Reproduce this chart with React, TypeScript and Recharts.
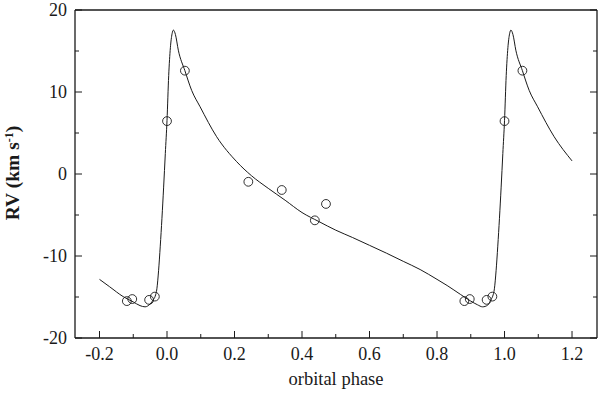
import React from "react";
import { ComposedChart, Line, Scatter, XAxis, YAxis } from "recharts";

// Fitted RV curve (phase, RV km/s)
const curvePhase = [
  -0.2, -0.17, -0.13, -0.1, -0.08, -0.065, -0.05, -0.04, -0.035, -0.03, -0.025, -0.02, -0.015, -0.01, -0.005,
  0.0, 0.005, 0.01, 0.015, 0.019, 0.025, 0.0335, 0.053, 0.073, 0.098, 0.147, 0.2065, 0.25, 0.3, 0.35, 0.4, 0.45,
  0.5, 0.55, 0.6, 0.65, 0.7, 0.75, 0.8, 0.83, 0.87, 0.9, 0.92, 0.935, 0.95, 0.96, 0.965, 0.97, 0.975, 0.98,
  0.985, 0.99, 0.995, 1.0, 1.005, 1.01, 1.015, 1.019, 1.025, 1.0335, 1.053, 1.073, 1.098, 1.147, 1.2,
];
const curveRV = [
  -12.85, -13.75, -14.95, -15.6, -16.05, -16.2, -15.85, -15.3, -14.9, -14.0, -11.8, -8.8, -5.4, -1.6, 2.5,
  6.5, 12.0, 15.4, 17.1, 17.55, 17.0, 15.1, 12.6, 10.2, 8.2, 4.55, 1.5, -0.2, -1.75, -3.2, -4.7, -5.8,
  -6.85, -7.75, -8.7, -9.65, -10.65, -11.65, -12.85, -13.6, -14.7, -15.5, -15.95, -16.2, -16.0, -15.3, -14.9, -14.0,
  -11.8, -8.8, -5.4, -1.6, 2.5, 6.5, 12.0, 15.4, 17.1, 17.55, 17.0, 15.1, 12.6, 10.2, 8.2, 4.55, 1.6,
];

// Observed RVs (open circles)
const obsPhase = [-0.119, -0.103, -0.053, -0.036, 0.0, 0.053, 0.241, 0.34, 0.438, 0.471, 0.881, 0.897, 0.947, 0.964, 1.0, 1.053];
const obsRV = [-15.5, -15.25, -15.35, -14.95, 6.45, 12.6, -0.95, -1.95, -5.65, -3.65, -15.5, -15.25, -15.35, -14.95, 6.45, 12.6];

const xTicks = [-0.2, -0.1, 0.0, 0.1, 0.2, 0.3, 0.4, 0.5, 0.6, 0.7, 0.8, 0.9, 1.0, 1.1, 1.2];
const yTicks = [-20, -15, -10, -5, 0, 5, 10, 15, 20];

const curve = curvePhase.map((p, i) => ({ phase: p, rv: curveRV[i] }));
const obs = obsPhase.map((p, i) => ({ phase: p, rv: obsRV[i] }));

const INK = "#1a1a1a";
const FONT = "'Liberation Serif', 'Times New Roman', serif";

const isMajorX = (v: number) => Math.round(v * 10) % 2 === 0;
const isMajorY = (v: number) => Math.round(v) % 10 === 0;

const BottomTick = (props: any) => {
  const { x, y, payload } = props;
  const v = payload.value as number;
  const major = isMajorX(v);
  return (
    <g>
      <line x1={x} y1={y} x2={x} y2={y - (major ? 7 : 4)} stroke={INK} strokeWidth={1} />
      {major && (
        <text x={x} y={y + 22} textAnchor="middle" fontFamily={FONT} fontSize={18} fill={INK}>
          {v.toFixed(1)}
        </text>
      )}
    </g>
  );
};

const TopTick = (props: any) => {
  const { x, y, payload } = props;
  const major = isMajorX(payload.value);
  return <line x1={x} y1={y} x2={x} y2={y + (major ? 7 : 4)} stroke={INK} strokeWidth={1} />;
};

const LeftTick = (props: any) => {
  const { x, y, payload } = props;
  const v = payload.value as number;
  const major = isMajorY(v);
  return (
    <g>
      <line x1={x} y1={y} x2={x + (major ? 7 : 4)} y2={y} stroke={INK} strokeWidth={1} />
      {major && (
        <text x={x - 8} y={y + 6} textAnchor="end" fontFamily={FONT} fontSize={18} fill={INK}>
          {String(v)}
        </text>
      )}
    </g>
  );
};

const RightTick = (props: any) => {
  const { x, y, payload } = props;
  const major = isMajorY(payload.value);
  return <line x1={x} y1={y} x2={x - (major ? 7 : 4)} y2={y} stroke={INK} strokeWidth={1} />;
};

const Circle = (props: any) => {
  const { cx, cy } = props;
  return <circle cx={cx} cy={cy} r={4.4} fill="none" stroke={INK} strokeWidth={0.9} />;
};

const XLabel = () => (
  <text x={336} y={385} textAnchor="middle" fontFamily={FONT} fontSize={18.5} fill={INK}>
    orbital phase
  </text>
);

const YLabel = () => (
  <text
    x={19}
    y={173}
    transform="rotate(-90 19 173)"
    textAnchor="middle"
    fontFamily={FONT}
    fontSize={19.5}
    fontWeight="bold"
    fill={INK}
  >
    RV (km s
    <tspan fontSize={12} dy={-6}>-1</tspan>
    <tspan dy={6}>)</tspan>
  </text>
);

export default function App() {
  return (
    <div style={{ position: "absolute", left: 0, top: 0, width: 600, height: 393, background: "#fff" }}>
      <ComposedChart width={600} height={393} margin={{ top: 0, right: 0, bottom: 0, left: 0 }}>
        <XAxis
          xAxisId={0}
          dataKey="phase"
          type="number"
          domain={[-0.2726, 1.274]}
          ticks={xTicks}
          interval={0}
          height={55}
          tickSize={0}
          tickMargin={0}
          tickLine={false}
          tick={<BottomTick />}
          axisLine={{ stroke: INK, strokeWidth: 1.3 }}
          allowDataOverflow
          label={{ content: XLabel }}
        />
        <XAxis
          xAxisId="top"
          orientation="top"
          type="number"
          domain={[-0.2726, 1.274]}
          ticks={xTicks}
          interval={0}
          height={10}
          tickSize={0}
          tickMargin={0}
          tickLine={false}
          tick={<TopTick />}
          axisLine={{ stroke: INK, strokeWidth: 1.3 }}
          allowDataOverflow
        />
        <YAxis
          yAxisId={0}
          type="number"
          domain={[-20, 20]}
          ticks={yTicks}
          interval={0}
          width={75}
          tickSize={0}
          tickMargin={0}
          tickLine={false}
          tick={<LeftTick />}
          axisLine={{ stroke: INK, strokeWidth: 1.3 }}
          allowDataOverflow
          label={{ content: YLabel }}
        />
        <YAxis
          yAxisId="right"
          orientation="right"
          type="number"
          domain={[-20, 20]}
          ticks={yTicks}
          interval={0}
          width={3}
          tickSize={0}
          tickMargin={0}
          tickLine={false}
          tick={<RightTick />}
          axisLine={{ stroke: INK, strokeWidth: 1.3 }}
          allowDataOverflow
        />
        <Line
          data={curve}
          dataKey="rv"
          type="monotone"
          dot={false}
          stroke={INK}
          strokeWidth={1}
          isAnimationActive={false}
        />
        <Scatter data={obs} dataKey="rv" shape={<Circle />} isAnimationActive={false} />
      </ComposedChart>
    </div>
  );
}
